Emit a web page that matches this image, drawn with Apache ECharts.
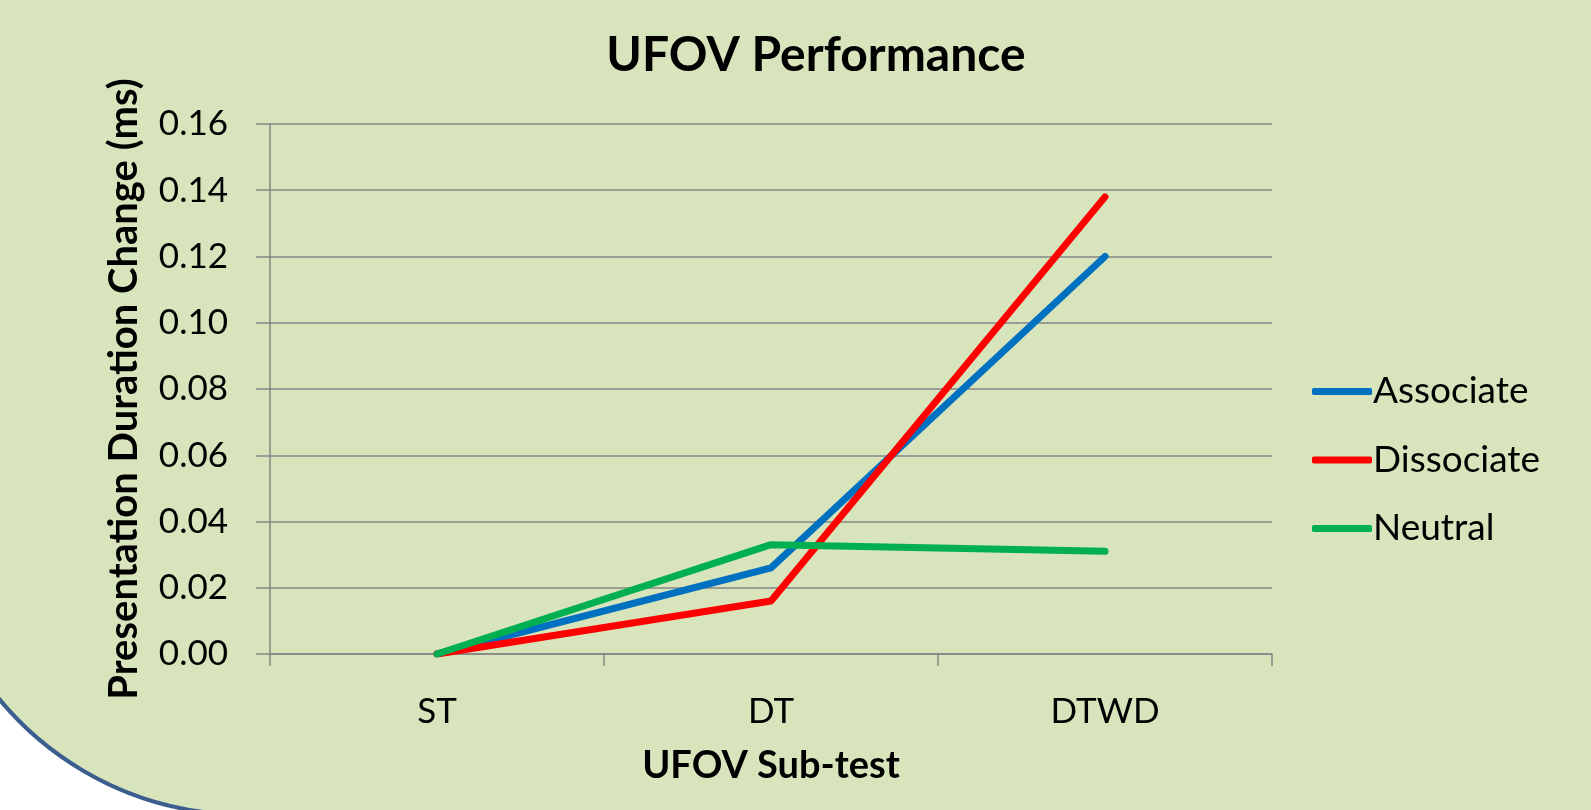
<!DOCTYPE html>
<html>
<head>
<meta charset="utf-8">
<script src="https://cdn.jsdelivr.net/npm/echarts@6/dist/echarts.min.js"></script>
<style>
html,body{margin:0;padding:0;background:#ffffff;}
#chart{width:1591px;height:810px;}
</style>
</head>
<body>
<div id="chart"></div>
<script>
// ---- data ----
const categories = ['ST', 'DT', 'DTWD'];
const associate = [0, 0.026, 0.120];
const dissociate = [0, 0.016, 0.138];
const neutral = [0, 0.033, 0.031];
const seriesNames = ['Associate', 'Dissociate', 'Neutral'];
const seriesColors = ['#0070c0', '#ff0000', '#00b050'];

const FONT = 'Lato';
const GRID = '#868686';

// decorative rounded frame corner (bottom-left)
const CX = 244.3, CY = 497, R = 317.6;
const a0 = 95 * Math.PI / 180, a1 = 146 * Math.PI / 180;
const cornerPts = [];
for (let i = 0; i <= 60; i++) {
  const a = a0 + (a1 - a0) * i / 60;
  cornerPts.push([CX + R * Math.cos(a), CY + R * Math.sin(a)]);
}
cornerPts.push([-20, 830]);

const chart = echarts.init(document.getElementById('chart'), null, {renderer: 'canvas'});

const lineSeries = (name, data, color) => ({
  name: name,
  type: 'line',
  data: data,
  symbol: 'none',
  smooth: false,
  lineStyle: {color: color, width: 7, cap: 'round', join: 'round'},
  itemStyle: {color: color},
  emphasis: {disabled: true}
});

chart.setOption({
  backgroundColor: '#d8e4bc',
  animation: false,
  textStyle: {fontFamily: FONT},
  title: {
    text: 'UFOV Performance',
    left: 811,
    textAlign: 'center',
    top: 27,
    textStyle: {fontFamily: FONT, fontWeight: 'bold', fontSize: 48, color: '#000'}
  },
  grid: {left: 270, right: 319, top: 124, bottom: 156, containLabel: false},
  legend: {
    orient: 'vertical',
    left: 1307,
    top: 368,
    icon: 'roundRect',
    itemWidth: 60,
    itemHeight: 7,
    itemGap: 31.5,
    data: seriesNames,
    textStyle: {fontFamily: FONT, fontSize: 37, color: '#000', lineHeight: 36, padding: [0, 0, 0, -4]}
  },
  xAxis: {
    type: 'category',
    data: categories,
    boundaryGap: true,
    name: 'UFOV Sub-test',
    nameLocation: 'middle',
    nameGap: 93,
    nameTextStyle: {fontFamily: FONT, fontWeight: 'bold', fontSize: 38, color: '#000'},
    axisLine: {lineStyle: {color: GRID, width: 1.5}},
    axisTick: {show: true, length: 12, lineStyle: {color: GRID, width: 1.5}},
    axisLabel: {fontFamily: FONT, fontSize: 35, color: '#000', margin: 40},
    splitLine: {show: false}
  },
  yAxis: {
    type: 'value',
    min: 0,
    max: 0.16,
    interval: 0.02,
    name: 'Presentation Duration Change (ms)',
    nameLocation: 'middle',
    nameRotate: 90,
    nameGap: 126,
    nameTextStyle: {fontFamily: FONT, fontWeight: 'bold', fontSize: 40, color: '#000'},
    axisLine: {show: true, lineStyle: {color: GRID, width: 1.5}},
    axisTick: {show: true, length: 14, lineStyle: {color: GRID, width: 1.5}},
    axisLabel: {fontFamily: FONT, fontSize: 35, color: '#000', margin: 42,
      formatter: v => v.toFixed(2)},
    splitLine: {show: true, lineStyle: {color: GRID, width: 1.5}}
  },
  series: [
    lineSeries(seriesNames[0], associate, seriesColors[0]),
    lineSeries(seriesNames[1], dissociate, seriesColors[1]),
    lineSeries(seriesNames[2], neutral, seriesColors[2])
  ],
  graphic: [
    {
      type: 'polygon',
      silent: true,
      z: 100,
      shape: {points: cornerPts},
      style: {fill: '#ffffff', stroke: null}
    },
    {
      type: 'arc',
      silent: true,
      z: 101,
      shape: {cx: CX, cy: CY, r: R, startAngle: a0, endAngle: a1, clockwise: true},
      style: {fill: null, stroke: '#3b5e8e', lineWidth: 4}
    }
  ]
});
</script>
</body>
</html>
